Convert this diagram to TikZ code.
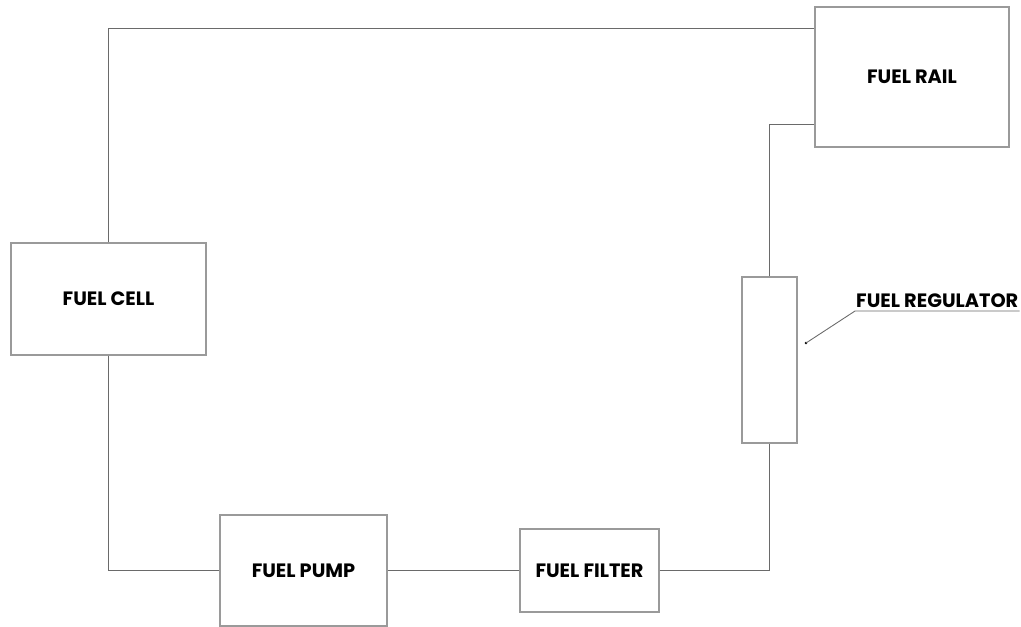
\documentclass[tikz,border=0pt]{standalone}
\usepackage{fontspec}
\setmainfont{Poppins}
\usepackage{tikz}
\usetikzlibrary{arrows.meta,positioning,calc}
\usepackage{xcolor}
\definecolor{boxgray}{HTML}{9A9A9A}
\definecolor{pipegray}{HTML}{6A6A6A}

\begin{document}
\begin{tikzpicture}[
    part/.style={rectangle, draw=boxgray, line width=0.6pt, align=center, font=\fontsize{11}{13}\selectfont\bfseries},
    pipe/.style={draw=pipegray, line width=0.5pt}]
    \useasboundingbox (0,0) rectangle (20.42,-12.52);

    \node[part, minimum width=3.9cm, minimum height=2.24cm] (cell) at (2.17,-5.98) {FUEL CELL};
    \node[part, minimum width=3.88cm, minimum height=2.8cm] (rail) at (18.24,-1.54) {FUEL RAIL};
    \node[part, minimum width=1.1cm, minimum height=3.32cm] (reg) at (15.39,-7.2) {};
    \node[part, minimum width=3.34cm, minimum height=2.22cm] (pump) at (6.07,-11.41) {FUEL PUMP};
    \node[part, minimum width=2.78cm, minimum height=1.66cm] (filter) at (11.79,-11.41) {FUEL FILTER};

    % leader for the regulator
    \coordinate (regdot) at (16.12,-6.86);
    \node[anchor=south west, inner xsep=0.5pt, inner ysep=2pt, font=\fontsize{11}{13}\selectfont\bfseries] (reglabel) at (17.1,-6.22) {FUEL REGULATOR};
    \fill (regdot) circle (0.8pt);
    \draw[pipe] (regdot) -- (reglabel.south west) -- (reglabel.south east);

    % fuel lines
    \draw[pipe] (cell.north) |- ([yshift=-0.44cm]rail.north west);
    \draw[pipe] (cell.south) |- (pump.west);
    \draw[pipe] (pump) -- (filter);
    \draw[pipe] (filter.east) -| (reg.south);
    \draw[pipe] (reg.north) |- ([yshift=0.46cm]rail.south west);
\end{tikzpicture}
\end{document}
